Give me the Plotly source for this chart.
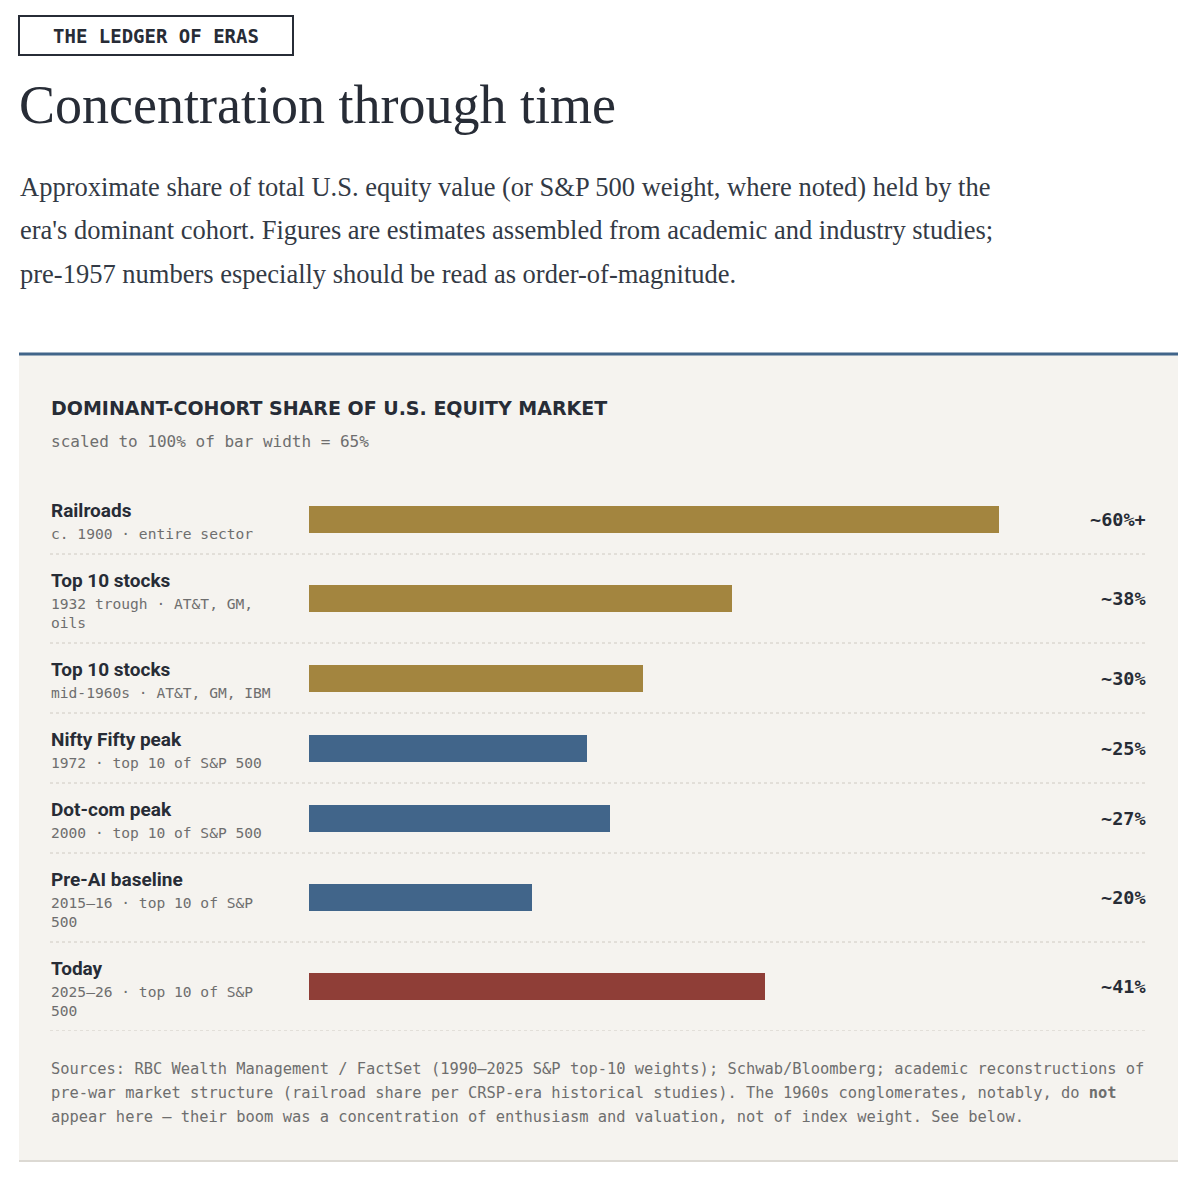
import textwrap
import plotly.graph_objects as go

# --- data ---
eras = ["Railroads", "Top 10 stocks", "Top 10 stocks", "Nifty Fifty peak",
        "Dot-com peak", "Pre-AI baseline", "Today"]
details = ["c. 1900 · entire sector",
           "1932 trough · AT&T, GM, oils",
           "mid-1960s · AT&T, GM, IBM",
           "1972 · top 10 of S&P 500",
           "2000 · top 10 of S&P 500",
           "2015–16 · top 10 of S&P 500",
           "2025–26 · top 10 of S&P 500"]
shares = [62, 38, 30, 25, 27, 20, 41]
share_labels = ["~60%+", "~38%", "~30%", "~25%", "~27%", "~20%", "~41%"]
groups = ["early", "early", "early", "index", "index", "index", "today"]
scale_max = 65

kicker = "THE LEDGER OF ERAS"
title = "Concentration through time"
intro_lines = [
    "Approximate share of total U.S. equity value (or S&P 500 weight, where noted) held by the",
    "era's dominant cohort. Figures are estimates assembled from academic and industry studies;",
    "pre-1957 numbers especially should be read as order-of-magnitude.",
]
chart_title = "DOMINANT-COHORT SHARE OF U.S. EQUITY MARKET"
chart_note = "scaled to 100% of bar width = 65%"
source_lines = [
    "Sources: RBC Wealth Management / FactSet (1990–2025 S&P top-10 weights); Schwab/Bloomberg; academic reconstructions of",
    "pre-war market structure (railroad share per CRSP-era historical studies). The 1960s conglomerates, notably, do <b>not</b>",
    "appear here — their boom was a concentration of enthusiasm and valuation, not of index weight. See below.",
]

# --- style ---
colors = {"early": "#a3853f", "index": "#41658a", "today": "#8f3e37"}
INK = "#272c36"
GREY = "#6e6e6e"
PANEL = "#f5f3ef"
SERIF = "Liberation Serif"
SANS = "Roboto"
MONO = "DejaVu Sans Mono"

W, H = 1184, 1164
OX, OY = 8, 8  # body margin of the page


def fx(x):
    return (x - OX) / W


def fy(y):
    return 1 - (y - OY) / H


# row layout: wrapped detail text decides row height
wrapped = [textwrap.wrap(d, 25) for d in details]
row_h = [70 + 19 * (len(w) - 1) for w in wrapped]
tops = [sum(row_h[:i]) for i in range(len(row_h))]
centers = [t + h / 2 for t, h in zip(tops, row_h)]
total = sum(row_h)
rows_top, rows_bot = 484, 484 + total
bar_left, px_per_pct = 309, 11.13

fig = go.Figure()
fig.add_trace(go.Bar(
    x=shares, y=centers, orientation="h", width=27,
    marker=dict(color=[colors[g] for g in groups], line=dict(width=0)),
    hoverinfo="skip", showlegend=False,
))

ann = []
shapes = []

# kicker box + title + intro
shapes.append(dict(type="rect", xref="paper", yref="paper",
                   x0=fx(19), x1=fx(293), y0=fy(16), y1=fy(55),
                   line=dict(color=INK, width=2)))
ann.append(dict(text=kicker, x=fx(156), y=fy(36), xanchor="center", yanchor="middle",
                font=dict(family=MONO, size=19, color=INK, weight="bold")))
ann.append(dict(text=title, x=fx(17), y=fy(105), xanchor="left", yanchor="middle",
                font=dict(family=SERIF, size=54, color=INK)))
for i, line in enumerate(intro_lines):
    ann.append(dict(text=line, x=fx(18), y=fy(187 + 43.5 * i), xanchor="left", yanchor="middle",
                    font=dict(family=SERIF, size=26.5, color="#333a45")))

# panel
shapes.append(dict(type="rect", xref="paper", yref="paper", layer="below",
                   x0=fx(19), x1=fx(1178), y0=fy(1160), y1=fy(355),
                   fillcolor=PANEL, line=dict(width=0)))
shapes.append(dict(type="line", xref="paper", yref="paper",
                   x0=fx(19), x1=fx(1178), y0=fy(354), y1=fy(354),
                   line=dict(color="#41658a", width=3)))
shapes.append(dict(type="line", xref="paper", yref="paper",
                   x0=fx(19), x1=fx(1178), y0=fy(1161), y1=fy(1161),
                   line=dict(color="#dcd9d3", width=2)))

ann.append(dict(text=chart_title, x=fx(49), y=fy(408), xanchor="left", yanchor="middle",
                font=dict(family="DejaVu Sans", size=19, color=INK, weight="bold")))
ann.append(dict(text=chart_note, x=fx(49), y=fy(441), xanchor="left", yanchor="middle",
                font=dict(family=MONO, size=16, color=GREY)))

# rows
for i in range(len(eras)):
    ann.append(dict(text=eras[i], x=fx(49), y=tops[i] + 26, yref="y",
                    xanchor="left", yanchor="middle",
                    font=dict(family=SANS, size=19, color=INK, weight="bold")))
    ann.append(dict(text="<br>".join(wrapped[i]), x=fx(49), y=tops[i] + 38.5, yref="y",
                    xanchor="left", yanchor="top", align="left",
                    font=dict(family=MONO, size=14.6, color=GREY)))
    ann.append(dict(text=share_labels[i], x=fx(1148), y=centers[i], yref="y",
                    xanchor="right", yanchor="middle",
                    font=dict(family=MONO, size=18.5, color=INK, weight="bold")))
    shapes.append(dict(type="line", xref="paper", yref="y",
                       x0=fx(50), x1=fx(1147), y0=tops[i] + row_h[i], y1=tops[i] + row_h[i],
                       line=dict(color="#cfcac2", width=1, dash="dot")))

for i, line in enumerate(source_lines):
    ann.append(dict(text=line, x=fx(49), y=fy(1069 + 24 * i), xanchor="left", yanchor="middle",
                    font=dict(family=MONO, size=15.4, color=GREY)))

for a in ann:
    a.setdefault("xref", "paper")
    a.setdefault("yref", "paper")
    a["showarrow"] = False

fig.update_layout(
    width=W, height=H,
    margin=dict(l=0, r=0, t=0, b=0),
    paper_bgcolor="white", plot_bgcolor="rgba(0,0,0,0)",
    xaxis=dict(domain=[fx(bar_left), fx(bar_left + scale_max * px_per_pct)],
               range=[0, scale_max], visible=False, fixedrange=True),
    yaxis=dict(domain=[fy(rows_bot), fy(rows_top)], range=[total, 0],
               visible=False, fixedrange=True),
    annotations=ann, shapes=shapes,
    bargap=0,
)

fig.write_html("out.html")
